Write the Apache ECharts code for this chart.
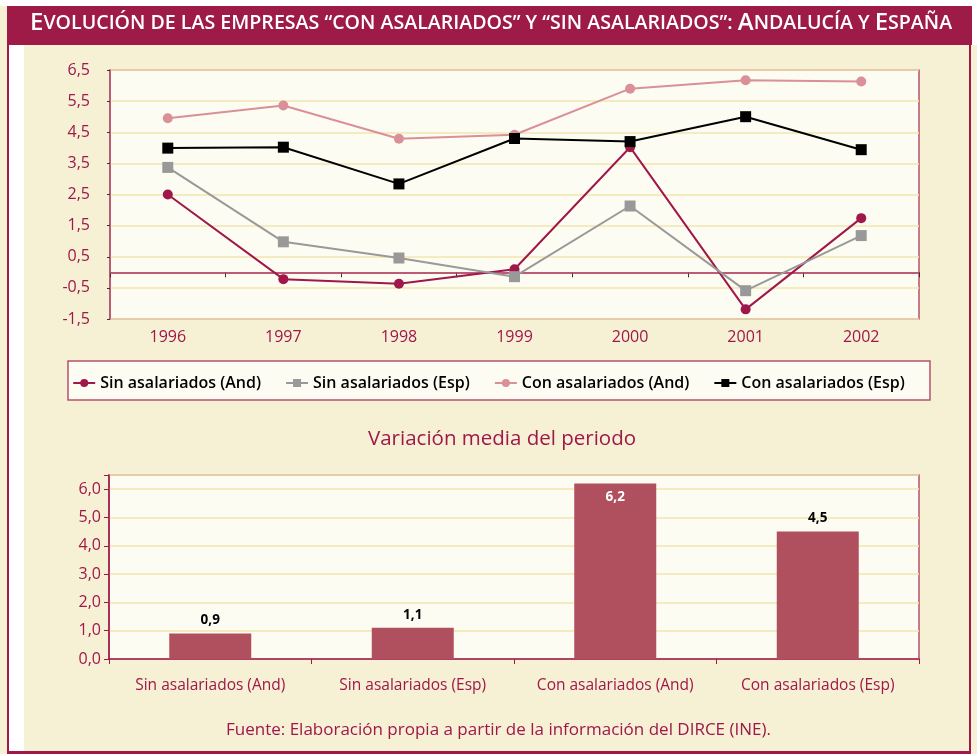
<!DOCTYPE html>
<html><head><meta charset="utf-8">
<script src="https://cdn.jsdelivr.net/npm/echarts@6/dist/echarts.min.js"></script>
<style>html,body{margin:0;padding:0;background:#fff}#c{width:977px;height:754px}</style>
</head><body><div id="c"></div>
<script>
const years = ['1996','1997','1998','1999','2000','2001','2002'];
const sinAnd = [2.5, -0.22, -0.37, 0.1, 4.02, -1.19, 1.74];
const sinEsp = [3.37, 0.98, 0.46, -0.14, 2.13, -0.59, 1.18];
const conAnd = [4.95, 5.36, 4.29, 4.42, 5.9, 6.17, 6.13];
const conEsp = [3.99, 4.02, 2.84, 4.3, 4.2, 5.0, 3.94];
const seriesNames = ['Sin asalariados (And)','Sin asalariados (Esp)','Con asalariados (And)','Con asalariados (Esp)'];
const barCats = ['Sin asalariados (And)','Sin asalariados (Esp)','Con asalariados (And)','Con asalariados (Esp)'];
const barVals = [0.9, 1.1, 6.2, 4.5];

const DR = '#A0174A', FR = '#B8506E', GRIDL = '#F2E6B0', PLOT = '#FDFCF3', CREAM = '#F6F0D4';
const FONT = 'Open Sans';
const fmt = v => (Math.abs(v - Math.round(v*10)/10) < 1e-9 ? v.toFixed(1).replace('.', ',') : '');
const fmtInt = v => (Math.abs(v - Math.round(v)) < 1e-9 ? v.toFixed(1).replace('.', ',') : '');

const chart = echarts.init(document.getElementById('c'), null, {renderer:'canvas'});
function lineSeries(name, data, color, symbol) {
  return {type:'line', name, data, xAxisIndex:0, yAxisIndex:0, symbol, symbolSize: symbol==='circle'?10:11,
    itemStyle:{color}, lineStyle:{color, width:2}, z:3, animation:false};
}
const s1 = lineSeries(seriesNames[0], sinAnd, DR, 'circle');
s1.markLine = {silent:true, symbol:'none', label:{show:false}, lineStyle:{color:FR, width:1.5, type:'solid'}, data:[{yAxis:0}], z:1};
const option = {
  backgroundColor: CREAM,
  animation:false,
  graphic:[
    {type:'rect', shape:{x:0,y:0,width:977,height:6}, style:{fill:'#fff'}, z:-10},
    {type:'rect', shape:{x:9,y:45,width:15,height:707}, style:{fill:'#fff'}, z:-10},
    {type:'rect', shape:{x:971,y:0,width:6,height:45}, style:{fill:'#fff'}, z:-10},
    {type:'rect', shape:{x:7,y:45,width:2,height:709}, style:{fill:DR}, z:5},
    {type:'rect', shape:{x:969,y:45,width:2,height:709}, style:{fill:DR}, z:5},
    {type:'rect', shape:{x:7,y:751,width:964,height:3}, style:{fill:DR}, z:5},
    {type:'rect', shape:{x:7,y:6,width:965,height:39}, style:{fill:'#9E1A47'}, z:5},
    {type:'text', left:30, top:11, z:6, style:{
      text:'{b|E}{s|VOLUCIÓN DE LAS EMPRESAS “CON ASALARIADOS” Y “SIN ASALARIADOS”: }{b|A}{s|NDALUCÍA Y }{b|E}{s|SPAÑA}',
      rich:{b:{fontSize:24, fontFamily:FONT, fill:'#fff', fontWeight:600}, s:{fontSize:19.6, fontFamily:FONT, fill:'#fff', fontWeight:600}},
      fill:'#fff'}},
    {type:'rect', shape:{x:68,y:361,width:862,height:39}, style:{fill:PLOT, stroke:FR, lineWidth:1.5}, z:1},
    {type:'text', left:368, top:429, z:6, style:{text:'Variación media del periodo', fontSize:20.5, fontFamily:FONT, fill:DR}},
    {type:'text', left:226, top:722, z:6, style:{text:'Fuente: Elaboración propia a partir de la información del DIRCE (INE).', fontSize:17, fontFamily:FONT, fill:DR}}
  ],
  legend:{
    data: seriesNames.map(n=>({name:n})),
    left:'center', top:370, itemGap:24, itemWidth:22, itemHeight:10,
    textStyle:{fontSize:16, fontFamily:FONT, color:'#000', fontWeight:600},
    z:4
  },
  grid:[
    {left:110, right:58, top:70, height:249, show:true, backgroundColor:PLOT, borderColor:FR, borderWidth:1.5},
    {left:109, right:58, top:475, height:184, show:true, backgroundColor:PLOT, borderColor:FR, borderWidth:1.5}
  ],
  xAxis:[
    {type:'category', gridIndex:0, data:years, boundaryGap:true,
      axisLine:{lineStyle:{color:FR, width:1.5}}, axisTick:{show:true, length:5, lineStyle:{color:'#333'}},
      axisLabel:{color:DR, fontSize:16, fontFamily:FONT, margin:10}},
    {type:'category', gridIndex:1, data:barCats, boundaryGap:true,
      axisLine:{lineStyle:{color:DR, width:1.5}}, axisTick:{show:true, interval:0, length:5, lineStyle:{color:DR}},
      axisLabel:{interval:0, color:DR, fontSize:15.5, fontFamily:FONT, margin:19}}
  ],
  yAxis:[
    {type:'value', gridIndex:0, min:-1.5, max:6.5, interval:1,
      axisLine:{show:true, lineStyle:{color:FR, width:1.5}}, axisTick:{show:true, length:3, lineStyle:{color:'#333'}},
      splitLine:{show:true, lineStyle:{color:GRIDL, width:1.5}},
      axisLabel:{formatter:fmt, color:DR, fontSize:16, fontFamily:FONT, margin:20}},
    {type:'value', gridIndex:1, min:0, max:6.5, interval:1,
      axisLine:{show:true, lineStyle:{color:DR, width:1.5}}, axisTick:{show:true, length:5, lineStyle:{color:DR}},
      splitLine:{show:true, lineStyle:{color:GRIDL, width:1.5}},
      axisLabel:{formatter:fmtInt, color:DR, fontSize:16, fontFamily:FONT, margin:8}}
  ],
  series:[
    s1,
    lineSeries(seriesNames[1], sinEsp, '#999999', 'rect'),
    lineSeries(seriesNames[2], conAnd, '#D99097', 'circle'),
    lineSeries(seriesNames[3], conEsp, '#000000', 'rect'),
    {type:'bar', xAxisIndex:1, yAxisIndex:1, barWidth:82, animation:false,
      data: barVals.map((v,i)=>({value:v, label: i===2 ? {position:'insideTop', color:'#fff', distance:7} : {position:'top', color:'#000', distance:6}})),
      itemStyle:{color:'#B04F5E'},
      label:{show:true, fontSize:13.5, fontWeight:'bold', fontFamily:FONT, formatter:p=>p.value.toFixed(1).replace('.',',')}}
  ]
};
chart.setOption(option);
</script></body></html>
